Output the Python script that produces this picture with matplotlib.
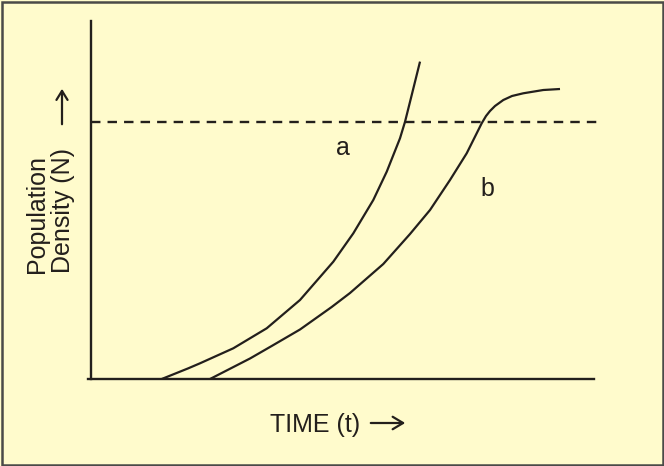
import matplotlib.pyplot as plt
from matplotlib.patches import FancyArrowPatch, Rectangle

# curve a: unchecked exponential growth (time, population density)
time_a = [14.06, 19.34, 21.67, 28.29, 34.93, 41.55, 48.17, 52.15, 56.12, 58.79, 61.43, 62.43, 63.76, 65.41]
dens_a = [0.0, 4.16, 6.11, 11.95, 19.73, 30.74, 45.64, 56.69, 69.65, 80.66, 93.66, 100.1, 110.5, 123.5]

# curve b: growth that levels off
time_b = [23.66, 29.28, 31.61, 35.92, 41.55, 47.85, 51.49, 58.11, 63.42, 67.40, 71.37, 74.69,
          77.67, 78.53, 79.32, 80.32, 81.97, 83.70, 85.94, 89.92, 93.24]
dens_b = [0.0, 5.64, 7.98, 12.84, 19.26, 28.02, 33.46, 44.75, 56.42, 65.76, 77.43, 87.82,
          99.49, 102.33, 104.28, 106.23, 108.56, 110.12, 111.17, 112.45, 112.84]

carrying_capacity = 100.0
labels = ["a", "b"]
label_pos = [(50.0, 89.9), (78.8, 73.9)]

bg = "#FFFBCC"
ink = "#231F1C"

plt.rcParams['font.family'] = ['Liberation Sans', 'DejaVu Sans']
fig = plt.figure(figsize=(6.64, 4.66), dpi=100)
fig.patch.set_facecolor(bg)

# outer frame
fig.patches.append(Rectangle((1.5/664, 1.5/466), 661/664, 463/466, transform=fig.transFigure,
                             fill=False, edgecolor="#4A4A48", lw=1.8))

ax = fig.add_axes([88/664, 87/466, 506/664, 358/466])
ax.set_facecolor(bg)
ax.set_xlim(-0.6, 100)
ax.set_ylim(0, 139.3)
for s in ["top", "right"]:
    ax.spines[s].set_visible(False)
ax.spines["left"].set_position(("data", 0))
for s in ["left", "bottom"]:
    ax.spines[s].set_color(ink)
    ax.spines[s].set_linewidth(1.7)
ax.set_xticks([])
ax.set_yticks([])

ax.plot(time_a, dens_a, color=ink, lw=1.6, solid_capstyle="butt", solid_joinstyle="round")
ax.plot(time_b, dens_b, color=ink, lw=1.6, solid_capstyle="butt", solid_joinstyle="round")

dash, = ax.plot([0, 101.2], [carrying_capacity, carrying_capacity], color=ink, lw=1.7, clip_on=False)
dash.set_dashes((4.0, 3.0))

for lab, (x, y) in zip(labels, label_pos):
    ax.text(x, y, lab, fontsize=18, color=ink, ha="center", va="center")

# axis titles
fig.text(50/664, 1 - 273/466, "Population\nDensity (N)", rotation=90, fontsize=18, color=ink,
         ha="center", va="bottom", multialignment="left", linespacing=1.1)
fig.text(270/664, 1 - 432/466, "TIME (t)", fontsize=18, color=ink, ha="left", va="baseline")

# arrows beside the titles
fig.add_artist(FancyArrowPatch((368/664, 1 - 423/466), (408/664, 1 - 423/466), transform=fig.transFigure,
                               arrowstyle="->,head_length=7.5,head_width=4.5", color=ink, lw=1.6))
fig.add_artist(FancyArrowPatch((62/664, 1 - 127/466), (62/664, 1 - 86/466), transform=fig.transFigure,
                               arrowstyle="->,head_length=6.5,head_width=4", color=ink, lw=1.6))

plt.savefig("out.png", dpi=100, facecolor=bg)
